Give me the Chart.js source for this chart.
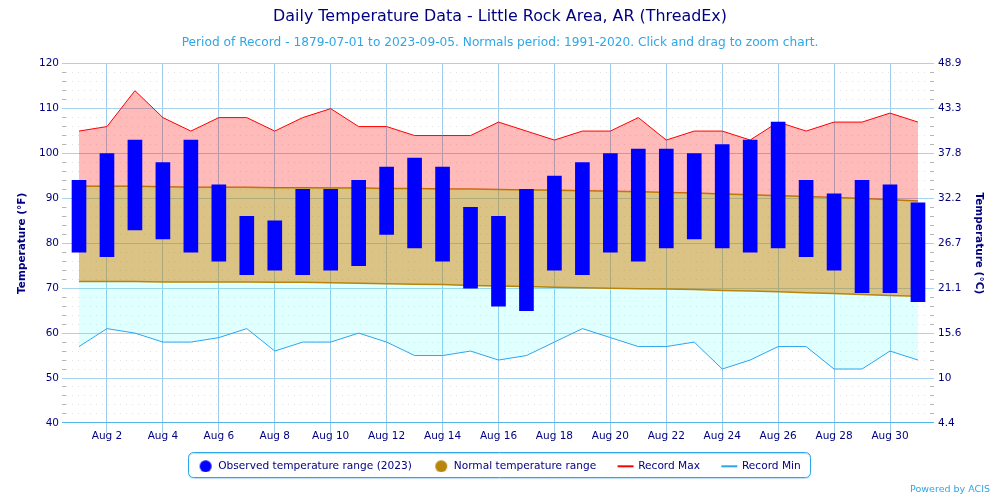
<!DOCTYPE html>
<html><head><meta charset="utf-8">
<style>html,body{margin:0;padding:0;background:#fff;overflow:hidden}canvas{display:block}</style>
<script src="https://cdn.jsdelivr.net/npm/chart.js@4"></script>
</head><body><canvas id="c" width="1000" height="497"></canvas>
<script>
const days=[1,2,3,4,5,6,7,8,9,10,11,12,13,14,15,16,17,18,19,20,21,22,23,24,25,26,27,28,29,30,31];
const obsHigh=[94,100,103,98,103,93,86,85,92,92,94,97,99,97,88,86,92,95,98,100,101,101,100,102,103,107,94,91,94,93,89];
const obsLow=[78,77,83,81,78,76,73,74,73,74,75,82,79,76,70,66,65,74,73,78,76,79,81,79,78,79,77,74,69,69,67];
const recordMax=[105,106,114,108,105,108,108,105,108,110,106,106,104,104,104,107,105,103,105,105,108,103,105,105,103,107,105,107,107,109,107];
const recordMin=[57,61,60,58,58,59,61,56,58,58,60,58,55,55,56,54,55,58,61,59,57,57,58,52,54,57,57,52,52,56,54];
const normalHigh=[92.7,92.7,92.7,92.6,92.5,92.5,92.5,92.4,92.4,92.3,92.3,92.2,92.2,92.1,92.1,92.0,91.9,91.8,91.7,91.6,91.5,91.3,91.2,91.0,90.8,90.6,90.4,90.2,90.0,89.7,89.4];
const normalLow=[71.5,71.5,71.5,71.4,71.4,71.4,71.4,71.3,71.3,71.2,71.1,71.0,70.9,70.8,70.6,70.5,70.4,70.2,70.1,70.0,69.9,69.8,69.7,69.5,69.4,69.2,69.0,68.8,68.6,68.4,68.2];
const fahrenheitTicks=[40,50,60,70,80,90,100,110,120];
const celsiusTickLabels=['4.4','10','15.6','21.1','26.7','32.2','37.8','43.3','48.9'];
const legendNames=['Observed temperature range (2023)','Normal temperature range','Record Max','Record Min'];

const NAVY='#000080',SKY='#2fa6e6',GRID='#a9d3ec',FONT='"DejaVu Sans"';
const pts=a=>a.map((v,i)=>({x:days[i],y:v}));
function swatch(kind,color){
  const c=document.createElement('canvas');c.width=22;c.height=16;
  const g=c.getContext('2d');g.fillStyle=color;
  if(kind==='dot'){g.beginPath();g.arc(9,8,6,0,Math.PI*2);g.fill();}
  else g.fillRect(1,7,16,2);
  return c;
}
const yGrid={
  color:c=>c.tick.value===40?'#55b5ea':(c.tick.value%10===0?GRID:'rgba(140,140,140,.24)'),
  tickColor:c=>c.tick.value===40?'#55b5ea':(c.tick.value%10===0?GRID:'rgba(120,120,120,.55)'),
  tickLength:4,lineWidth:1
};
const dash={display:false,dash:c=>c.tick&&c.tick.value%10!==0?[1,5]:[]};
const frame={id:'frame',
  afterLayout(ch){const l=ch.legend;l.top=435;l.bottom=472;l.left+=1.5;l.right+=1.5;},
  afterDraw(ch){
    const g=ch.ctx;g.save();
    g.strokeStyle=SKY;g.lineWidth=1;
    g.shadowColor='rgba(80,170,230,.45)';g.shadowOffsetY=1;g.shadowBlur=1;
    g.beginPath();g.roundRect(188.5,452.5,622,25,5);g.stroke();
    g.shadowColor='transparent';
    g.fillStyle=SKY;g.font='9.5px '+FONT;g.textAlign='right';g.textBaseline='middle';
    g.fillText('Powered by ACIS',990,489.5);
    g.restore();
  }};
new Chart(document.getElementById('c'),{
  type:'bar',
  data:{datasets:[
    {type:'bar',label:legendNames[0],order:0,data:days.map((d,i)=>({x:d,y:[obsLow[i],obsHigh[i]]})),backgroundColor:'#0000ff',barThickness:14,borderWidth:0,xAxisID:'x',yAxisID:'y'},
    {type:'line',label:'high',order:3,data:pts(normalHigh),borderColor:'#b8860b',borderWidth:1.5,pointRadius:0,tension:0,fill:{target:2,above:'rgba(184,134,11,.5)',below:'rgba(184,134,11,.5)'}},
    {type:'line',label:legendNames[1],order:4,data:pts(normalLow),borderColor:'#b8860b',borderWidth:1.5,pointRadius:0,tension:0,fill:false},
    {type:'line',label:legendNames[2],order:2,data:pts(recordMax),borderColor:'#ff0000',borderWidth:1,pointRadius:0,tension:0,fill:{target:1,above:'rgba(255,0,0,.27)',below:'rgba(255,0,0,.27)'}},
    {type:'line',label:legendNames[3],order:5,data:pts(recordMin),borderColor:'#2aa5f0',borderWidth:1,pointRadius:0,tension:0,fill:{target:2,above:'rgba(0,255,255,.12)',below:'rgba(0,255,255,.12)'}}
  ]},
  options:{
    responsive:false,animation:false,devicePixelRatio:1,
    layout:{padding:{left:0,right:0,top:0,bottom:0}},
    events:[],
    plugins:{
      tooltip:{enabled:false},
      title:{display:true,text:'Daily Temperature Data - Little Rock Area, AR (ThreadEx)',color:NAVY,font:{family:FONT,size:15.9,weight:'normal'},padding:{top:7,bottom:0}},
      subtitle:{display:true,text:'Period of Record - 1879-07-01 to 2023-09-05. Normals period: 1991-2020. Click and drag to zoom chart.',color:SKY,font:{family:FONT,size:12.2,weight:'normal'},padding:{top:9,bottom:14}},
      legend:{display:true,position:'bottom',labels:{
        color:NAVY,font:{family:FONT,size:10.6},padding:26,usePointStyle:true,boxWidth:11,boxHeight:9,
        generateLabels(){const cols=[['dot','#0000ff'],['dot','#b8860b'],['line','#ff0000'],['line','#2aa5f0']];
          return legendNames.map((t,i)=>({text:t,fontColor:NAVY,pointStyle:swatch(cols[i][0],cols[i][1]),lineWidth:0,strokeStyle:'transparent',fillStyle:cols[i][1],hidden:false,datasetIndex:i}));}
      }}
    },
    scales:{
      x:{type:'linear',min:0.535,max:31.43,offset:false,
        border:{display:false},
        grid:{offset:false,color:'#9fcdea',tickColor:'#9fcdea',tickLength:10,lineWidth:1},
        afterFit(s){s.height=27.5;},
        ticks:{stepSize:2,includeBounds:false,autoSkip:false,maxRotation:0,padding:-3,color:NAVY,font:{family:FONT,size:10.5},callback:v=>'Aug '+v}
      },
      y:{type:'linear',position:'left',min:40,max:120,
        border:dash,grid:yGrid,
        afterFit(s){s.width=66;},
        title:{display:true,text:'Temperature (°F)',color:NAVY,font:{family:FONT,size:10.5,weight:'bold'},padding:{top:16,bottom:0}},
        ticks:{stepSize:2,autoSkip:false,padding:3,color:NAVY,font:{family:FONT,size:10.5},callback:v=>fahrenheitTicks.includes(v)?String(v):''}
      },
      y2:{type:'linear',position:'right',min:40,max:120,
        border:{display:false},
        grid:{...yGrid,drawOnChartArea:false},
        afterFit(s){s.width=70;},
        title:{display:true,text:'Temperature (°C)',color:NAVY,font:{family:FONT,size:10.5,weight:'bold'},padding:{top:15,bottom:0}},
        ticks:{stepSize:2,autoSkip:false,padding:4,color:NAVY,font:{family:FONT,size:10.5},callback:v=>{const i=fahrenheitTicks.indexOf(v);return i<0?'':celsiusTickLabels[i];}}
      }
    }
  },
  plugins:[frame]
});
</script></body></html>
